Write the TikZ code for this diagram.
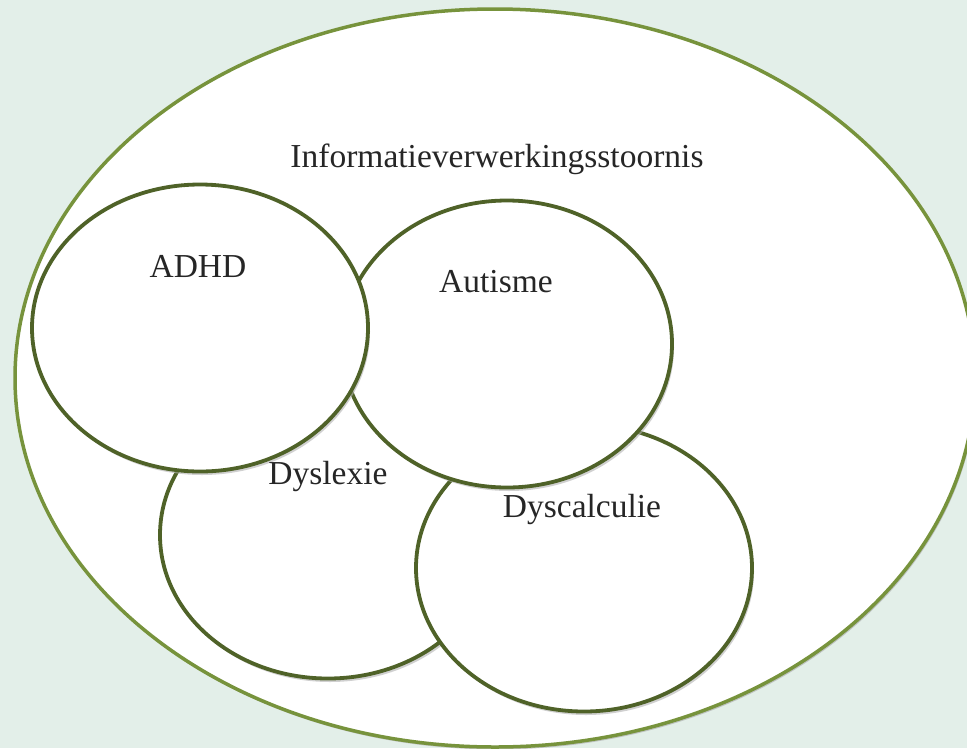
\documentclass[tikz,border=0pt]{standalone}
\usepackage{fontspec}
\setmainfont{Liberation Serif}
\usetikzlibrary{shapes.geometric,shadows}
\definecolor{bgcol}{HTML}{E3EFE9}
\definecolor{outerline}{HTML}{77933C}
\definecolor{innerline}{HTML}{4F6228}
\definecolor{txtcol}{HTML}{262626}
\tikzset{
  outerset/.style={ellipse, draw=outerline, line width=3.5pt, fill=white, inner sep=0pt,
    drop shadow={shadow xshift=1.5pt, shadow yshift=-2.5pt, fill=black!35, opacity=0.6}},
  setcirc/.style={ellipse, draw=innerline, line width=3.8pt, fill=white, inner sep=0pt,
    minimum width=336pt, minimum height=287pt,
    drop shadow={shadow xshift=2pt, shadow yshift=-3.5pt, fill=black!30, opacity=0.6}},
  lbl/.style={anchor=base, text=txtcol, font=\fontsize{33.5}{40}\selectfont, inner sep=0pt}
}
\begin{document}
\begin{tikzpicture}[x=1pt,y=-1pt]
\fill[bgcol] (0,0) rectangle (967,748);
\useasboundingbox (0,0) rectangle (967,748);
\node[outerset, minimum width=960pt, minimum height=738pt] (outer) at (495,378) {};
\node[setcirc] (dys) at (328,535) {};
\node[setcirc] (dysc) at (584,568) {};
\node[setcirc, minimum width=330pt] (aut) at (507,344) {};
\node[setcirc] (adhd) at (200,328) {};
\node[lbl] (tout) at (497,167) {Informatieverwerkingsstoornis};
\node[lbl] (tadhd) at (198,277) {ADHD};
\node[lbl] (taut) at (496,292) {Autisme};
\node[lbl] (tdys) at (328,484) {Dyslexie};
\node[lbl] (tdysc) at (582,517) {Dyscalculie};
\end{tikzpicture}
\end{document}
